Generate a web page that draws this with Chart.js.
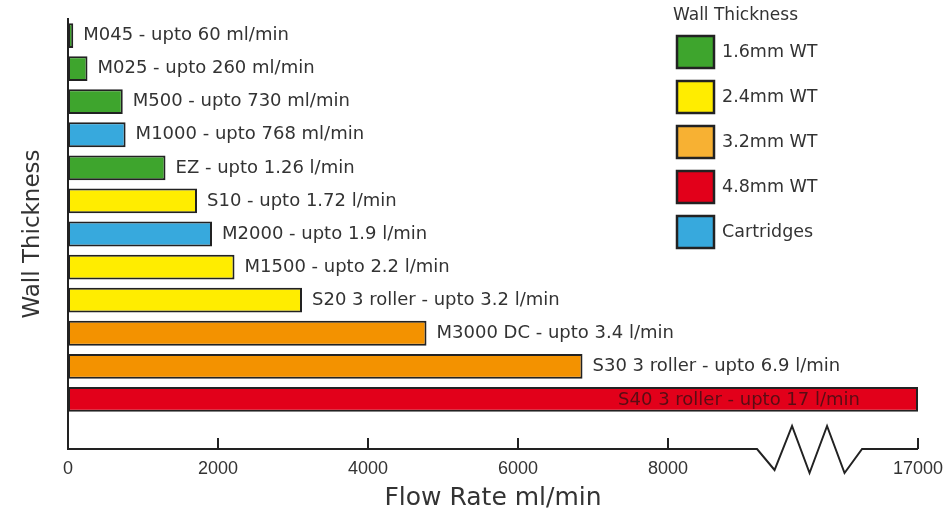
<!DOCTYPE html>
<html>
<head>
<meta charset="utf-8">
<script src="https://cdn.jsdelivr.net/npm/chart.js@4/dist/chart.umd.min.js"></script>
<style>
  html, body { margin: 0; padding: 0; background: #fff; }
  #wrap { width: 944px; height: 511px; position: relative; }
</style>
</head>
<body>
<div id="wrap"><canvas id="flowChart"></canvas></div>
<script>
// Pump models, top to bottom
var models = ["M045", "M025", "M500", "M1000", "EZ", "S10", "M2000", "M1500", "S20 3 roller", "M3000 DC", "S30 3 roller", "S40 3 roller"];
// Text shown beside each bar
var barTexts = [
  "M045 - upto 60 ml/min", "M025 - upto 260 ml/min", "M500 - upto 730 ml/min",
  "M1000 - upto 768 ml/min", "EZ - upto 1.26 l/min", "S10 - upto 1.72 l/min",
  "M2000 - upto 1.9 l/min", "M1500 - upto 2.2 l/min", "S20 3 roller - upto 3.2 l/min",
  "M3000 DC - upto 3.4 l/min", "S30 3 roller - upto 6.9 l/min", "S40 3 roller - upto 17 l/min"
];
// Bar length on the (broken) flow axis
var flowValues = [70, 260, 730, 768, 1300, 1720, 1920, 2220, 3120, 4780, 6860, 11333];
// Wall thickness group of each model
var wallGroups = ["1.6mm WT", "1.6mm WT", "1.6mm WT", "Cartridges", "1.6mm WT", "2.4mm WT", "Cartridges", "2.4mm WT", "2.4mm WT", "3.2mm WT", "3.2mm WT", "4.8mm WT"];
var legendGroups = ["1.6mm WT", "2.4mm WT", "3.2mm WT", "4.8mm WT", "Cartridges"];
// x axis ticks: the last one sits after the axis break
var xTickValues = [0, 2000, 4000, 6000, 8000, 11333];
var xTickLabels = ["0", "2000", "4000", "6000", "8000", "17000"];
var axisBreak = [9187, 10587];

var barColors = {
  "1.6mm WT": "#3ea52d",
  "2.4mm WT": "#ffed00",
  "3.2mm WT": "#f39200",
  "4.8mm WT": "#e2001a",
  "Cartridges": "#37a9dd"
};
var legendColors = {
  "1.6mm WT": "#3ea52d",
  "2.4mm WT": "#ffed00",
  "3.2mm WT": "#f7b133",
  "4.8mm WT": "#e2001a",
  "Cartridges": "#37a9dd"
};

var textFont = "DejaVu Sans, Verdana, sans-serif";

// bar labels, x axis with zigzag break, and the legend
var decorPlugin = {
  id: "decor",
  afterDatasetsDraw: function(chart) {
    var ctx = chart.ctx;
    var meta = chart.getDatasetMeta(0);
    ctx.save();
    ctx.font = "18px " + textFont;
    ctx.textBaseline = "middle";
    meta.data.forEach(function(bar, i) {
      var txt = barTexts[i];
      if (!txt) return;
      var w = ctx.measureText(txt).width;
      if (bar.x + 10 + w > chart.chartArea.right) {
        ctx.fillStyle = "#5a0c14";
        ctx.textAlign = "right";
        ctx.fillText(txt, bar.x - 58, bar.y + 1);
      } else {
        ctx.fillStyle = "#333";
        ctx.textAlign = "left";
        ctx.fillText(txt, bar.x + 10, bar.y);
      }
    });
    ctx.restore();
  },
  afterDraw: function(chart) {
    var ctx = chart.ctx;
    var xs = chart.scales.x;
    var area = chart.chartArea;
    var y0 = area.bottom;
    var b0 = xs.getPixelForValue(axisBreak[0]);
    var b1 = xs.getPixelForValue(axisBreak[1]);
    var step = (b1 - b0) / 6;
    var zig = [0, 21, -23, 24, -23, 24, 0];

    ctx.save();
    ctx.strokeStyle = "#222";
    ctx.lineWidth = 2;
    ctx.lineJoin = "miter";
    ctx.beginPath();
    ctx.moveTo(area.left, y0);
    ctx.lineTo(b0, y0);
    for (var k = 1; k < zig.length; k++) {
      ctx.lineTo(b0 + step * k, y0 + zig[k]);
    }
    ctx.lineTo(xs.getPixelForValue(xTickValues[xTickValues.length - 1]), y0);
    ctx.stroke();
    // inward tick marks
    xTickValues.forEach(function(v) {
      var px = Math.round(xs.getPixelForValue(v));
      ctx.beginPath();
      ctx.moveTo(px, y0);
      ctx.lineTo(px, y0 - 11);
      ctx.stroke();
    });

    // legend
    ctx.fillStyle = "#333";
    ctx.font = "17px " + textFont;
    ctx.textAlign = "left";
    ctx.textBaseline = "middle";
    ctx.fillText("Wall Thickness", 673, 16);
    ctx.font = "17.5px " + textFont;
    legendGroups.forEach(function(g, i) {
      var top = 36 + i * 45;
      ctx.fillStyle = legendColors[g];
      ctx.fillRect(677, top, 37, 32);
      ctx.strokeStyle = "#222";
      ctx.lineWidth = 2.5;
      ctx.strokeRect(677, top, 37, 32);
      ctx.fillStyle = "#333";
      ctx.fillText(g, 722, top + 16);
    });
    ctx.restore();
  }
};

window.onload = function() {
  var ctx = document.getElementById("flowChart").getContext("2d");
  var labels = models.concat([""]);
  var data = flowValues.concat([null]);

  new Chart(ctx, {
    type: "bar",
    data: {
      labels: labels,
      datasets: [{
        label: "Flow Rate",
        data: data,
        backgroundColor: wallGroups.map(function(g) { return barColors[g]; }),
        borderColor: "#222",
        borderWidth: 2,
        borderSkipped: false,
        barPercentage: 0.75,
        categoryPercentage: 1
      }]
    },
    options: {
      indexAxis: "y",
      responsive: true,
      maintainAspectRatio: false,
      animation: false,
      layout: { padding: { top: 19, right: 26, left: 0, bottom: 0 } },
      plugins: {
        legend: { display: false },
        tooltip: { enabled: false }
      },
      scales: {
        x: {
          min: 0,
          max: 11333,
          grid: { display: false },
          border: { display: false },
          afterBuildTicks: function(scale) {
            scale.ticks = xTickValues.map(function(v) { return { value: v }; });
          },
          afterFit: function(scale) {
            scale.height = 62;
            scale.paddingLeft = 0;
            scale.paddingRight = 0;
          },
          ticks: {
            autoSkip: false,
            maxRotation: 0,
            padding: 1,
            color: "#333",
            font: { family: "Liberation Sans, Arial, sans-serif", size: 18 },
            callback: function(value) {
              var i = xTickValues.indexOf(value);
              return i >= 0 ? xTickLabels[i] : "";
            }
          },
          title: {
            display: true,
            text: "Flow Rate ml/min",
            color: "#333",
            padding: { top: 0, bottom: -2 },
            font: { family: textFont, size: 25 }
          }
        },
        y: {
          grid: { display: false },
          border: { display: true, color: "#222", width: 2 },
          ticks: { display: false },
          afterFit: function(scale) { scale.width = 68; },
          title: {
            display: true,
            text: "Wall Thickness",
            color: "#333",
            padding: { top: 19, bottom: 0 },
            font: { family: textFont, size: 23 }
          }
        }
      }
    },
    plugins: [decorPlugin]
  });
};
</script>
</body>
</html>
